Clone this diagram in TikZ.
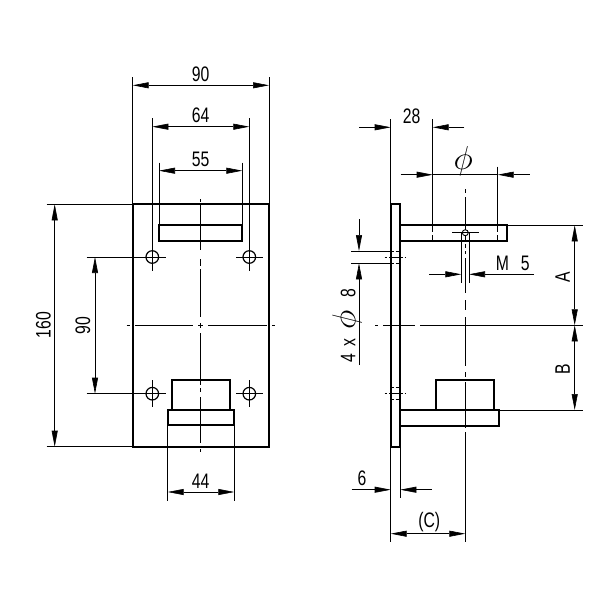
\documentclass[tikz,border=0pt]{standalone}
\usepackage{fontspec}
\setmainfont[FakeStretch=0.75]{Liberation Sans}
\usetikzlibrary{arrows.meta}
\tikzset{
	outline/.style={line width=1.8pt},
	dimline/.style={line width=0.6pt},
	dimtext/.style={inner sep=0pt,font=\fontsize{21}{21}\selectfont},
	>={Triangle[length=16pt,width=6pt]},
}

\begin{document}
\begin{tikzpicture}[x=1pt,y=-1pt]
	\useasboundingbox (0,0) rectangle (600,600);

	\def\frontx{200.7}
	\def\midy{325.3}
	\def\sidex{465.3}
	\def\holeup{257}
	\def\holedown{393.7}

	\draw[outline] (132.7,204.3) rectangle (269,446.7);
	\draw[outline] (159,225.3) rectangle (242.3,240.7);
	\draw[outline] (171.7,379.7) rectangle (230,410);
	\draw[outline] (167.7,410) rectangle (234.3,425.3);
	\foreach \x in {152.3,249.3}
	{
		\foreach \y in {\holeup,\holedown}
		{
			\draw[outline,line width=1.2pt] (\x,\y) circle (6.3);
		}
		\draw[dimline] (\x,118.3)--(\x,270.7);
		\draw[dimline] (\x,380)--(\x,407);
	}
	\draw[dimline] (86.7,\holeup)--(165.7,\holeup);
	\draw[dimline] (86.7,\holedown)--(165.7,\holedown);
	\draw[dimline] (236,\holeup)--(262.7,\holeup);
	\draw[dimline] (236,\holedown)--(262.7,\holedown);

	\foreach \a/\b in {199/201.7,204/250,259/266,269/316.7,323/328,333/385,388/392,397/443,449/452}
	{
		\draw[dimline] (\frontx,\a)--(\frontx,\b);
	}
	\foreach \a/\b in {126.7/130,135/193,198/203,208/267,272/275}
	{
		\draw[dimline] (\a,\midy)--(\b,\midy);
	}

	\draw[dimline] (132.7,77.3)--(132.7,204.3);
	\draw[dimline] (269,77.3)--(269,204.3);
	\draw[dimline,<->] (132.7,85.3)--(269,85.3);
	\node[dimtext] (width) at (\frontx,74) {90};
	\draw[dimline,<->] (152.3,126.7)--(249.3,126.7);
	\node[dimtext] (holepitch) at (\frontx,115) {64};
	\draw[dimline] (159,162.7)--(159,225.3);
	\draw[dimline] (242.3,162.7)--(242.3,225.3);
	\draw[dimline,<->] (159,170.7)--(242.3,170.7);
	\node[dimtext] (armwidth) at (\frontx,159) {55};

	\draw[dimline] (46.7,204.3)--(132.7,204.3);
	\draw[dimline] (46.7,446.7)--(132.7,446.7);
	\draw[dimline,<->] (54.7,204.3)--(54.7,446.7);
	\node[dimtext,rotate=90] (height) at (43.3,\midy) {160};
	\draw[dimline,<->] (95,\holeup)--(95,\holedown);
	\node[dimtext,rotate=90] (holeheight) at (83,\midy) {90};

	\draw[dimline] (167.7,425.3)--(167.7,500.7);
	\draw[dimline] (234.3,425.3)--(234.3,500.7);
	\draw[dimline,<->] (167.7,492)--(234.3,492);
	\node[dimtext] (basewidth) at (\frontx,481.7) {44};

	\draw[outline] (390.7,204) rectangle (400.3,446.7);
	\draw[outline] (400.3,225.3) rectangle (507,240.7);
	\draw[outline] (400.3,410) rectangle (499,425.7);
	\draw[outline] (436.3,380) rectangle (494.3,410);
	\draw[outline,line width=0.9pt] (\sidex,232.7) circle (3);
	\draw[dimline] (452,232.7)--(478.7,232.7);
	\draw[dimline] (461.3,232.7)--(461.3,282.7);
	\draw[dimline] (469,232.7)--(469,282.7);

	\foreach \a/\b in {189.3/193,197/230,236/241,244/248,251/254,258/293,300/310,317/366,372/377,382/428,432/541.7}
	{
		\draw[dimline] (\sidex,\a)--(\sidex,\b);
	}
	\foreach \a/\b in {375/378,383/415,420/582.7}
	{
		\draw[dimline] (\a,\midy)--(\b,\midy);
	}

	\draw[dimline] (390.7,119.3)--(390.7,204);
	\draw[dimline] (432.7,119.3)--(432.7,232);
	\draw[dimline] (432.7,235)--(432.7,240.7);
	\draw[dimline,->] (359,127.3)--(390.7,127.3);
	\draw[dimline,->] (464.3,127.3)--(432.7,127.3);
	\node[dimtext] (armpos) at (411.7,116) {28};
	\draw[dimline] (497.7,166.7)--(497.7,232);
	\draw[dimline] (497.7,235)--(497.7,240.7);
	\draw[dimline,->] (400.7,174.7)--(432.7,174.7);
	\draw[dimline] (432.7,174.7)--(497.7,174.7);
	\draw[dimline,->] (529.7,174.7)--(497.7,174.7);
	\node[dimtext,scale=1.6] (pindia) at (463.3,161.7) {$\phi$};

	\draw[dimline,->] (429.3,274.3)--(461.3,274.3);
	\draw[dimline,->] (534,274.3)--(469,274.3);
	\node[dimtext] (thread) at (512.7,263) {M\hspace{12pt}5};

	\draw[dimline] (507,225.3)--(582.7,225.3);
	\draw[dimline] (499,410)--(582.7,410);
	\draw[dimline,<->] (574.7,225.3)--(574.7,\midy);
	\draw[dimline,<->] (574.7,\midy)--(574.7,410);
	\node[dimtext,rotate=90] (upper) at (562.7,277.7) {A};
	\node[dimtext,rotate=90] (lower) at (562.7,369.3) {B};

	\draw[dimline] (351,251)--(390.7,251);
	\draw[dimline] (351,263.3)--(390.7,263.3);
	\draw[dimline,->] (359,219.3)--(359,251);
	\draw[dimline,->] (359,365)--(359,263.3);
	\node[dimtext,rotate=90] (holes) at (347,325.5) {4\hspace{7pt}x\hspace{9pt}\scalebox{1.6}{$\phi$}\hspace{13pt}8};
	\foreach \y in {\holeup,\holedown}
	{
		\foreach \a/\b in {384.5/387,389/403,404.5/406}
		{
			\draw[dimline] (\a,\y)--(\b,\y);
		}
	}
	\foreach \y in {251,263.3,387.3,399.3}
	{
		\draw[dimline,dash pattern=on 3pt off 2pt] (390.7,\y)--(400.3,\y);
	}

	\draw[dimline] (390.7,446.7)--(390.7,541.7);
	\draw[dimline] (400.3,446.7)--(400.3,497.7);
	\draw[dimline,->] (351.7,489.7)--(390.7,489.7);
	\draw[dimline,->] (431.7,489.7)--(400.3,489.7);
	\node[dimtext] (platethick) at (362,478.3) {6};
	\draw[dimline,<->] (390.7,533.7)--(\sidex,533.7);
	\node[dimtext] (reach) at (429.3,521.7) {(C)};
\end{tikzpicture}
\end{document}
